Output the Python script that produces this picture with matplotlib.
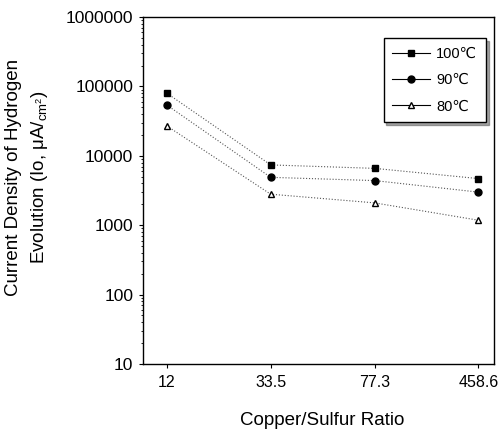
import matplotlib.pyplot as plt
from matplotlib.ticker import LogLocator, FixedLocator, NullFormatter
import numpy as np

plt.rcParams['font.family'] = ['Liberation Sans', 'DejaVu Sans']
plt.rcParams['mathtext.fontset'] = 'custom'
plt.rcParams['mathtext.rm'] = 'Liberation Sans'
plt.rcParams['mathtext.it'] = 'Liberation Sans'

ratios = ["12", "33.5", "77.3", "458.6"]
labels = ["100\u2103", "90\u2103", "80\u2103"]
io_100 = [80000, 7400, 6600, 4700]
io_90 = [54000, 4900, 4400, 3000]
io_80 = [27000, 2800, 2100, 1180]
markers = ["s", "o", "^"]

fig = plt.figure(figsize=(4.98, 4.38), dpi=100)
ax = fig.add_axes([0.287, 0.169, 0.705, 0.792])

x = np.arange(len(ratios))
for ys, m, lab in zip([io_100, io_90, io_80], markers, labels):
    ax.plot(x, ys, ls=":", color="#555555", lw=0.8, marker=m, ms=5,
            mfc="black" if m != "^" else "white", mec="black", label=lab)

ax.set_yscale("log")
ax.set_ylim(10, 1e6)
ax.set_xlim(-0.23, 3.15)
ax.set_xticks(x, ratios)
ax.yaxis.set_major_locator(FixedLocator([10, 100, 1000, 10000, 100000, 1000000]))
ax.set_yticklabels(["10", "100", "1000", "10000", "100000", "1000000"])
ax.yaxis.set_minor_locator(LogLocator(base=10, subs=np.arange(2, 10)))
ax.yaxis.set_minor_formatter(NullFormatter())
ax.tick_params(axis="y", which="major", direction="out", length=3, pad=4, labelsize=12.5)
ax.tick_params(axis="y", which="minor", direction="out", length=1.5)
ax.tick_params(axis="x", direction="out", length=3, pad=5, labelsize=11.5)
for s in ax.spines.values():
    s.set_linewidth(1.0)

''' axis titles placed like the scanned figure '''
fig.text(0.055, 0.596, "Current Density of Hydrogen\nEvolution (Io, $\\mu$A/$_{\\mathrm{cm^2}}$)",
         rotation=90, ha="center", va="center", fontsize=13.5, linespacing=1.5, multialignment="center")
fig.text(0.647, 0.041, "Copper/Sulfur Ratio", ha="center", va="center", fontsize=13.5)

leg = ax.legend(loc="upper right", bbox_to_anchor=(0.977, 0.94), borderaxespad=0, fontsize=10.5,
                frameon=True, fancybox=False, shadow=True, edgecolor="black", framealpha=1,
                handlelength=2.6, labelspacing=0.85, borderpad=0.6, handletextpad=0.4)
leg.get_frame().set_linewidth(1.0)
for h in leg.get_lines():
    h.set_linestyle("-")
    h.set_color("black")

fig.savefig("out.png", dpi=100)
